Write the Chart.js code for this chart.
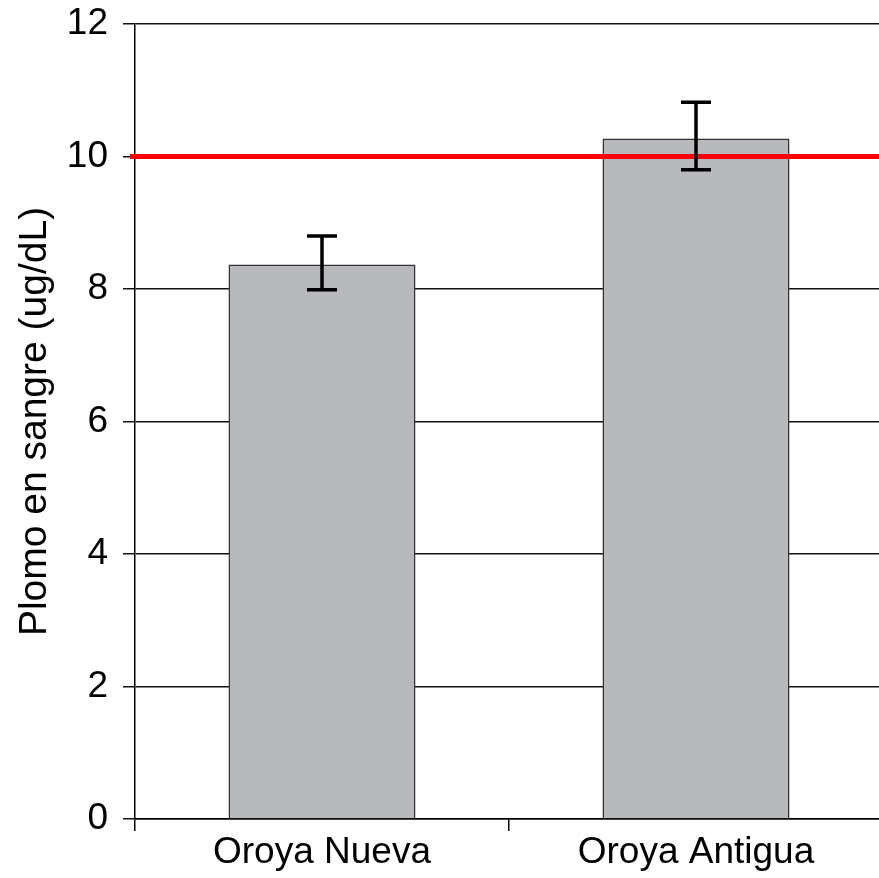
<!DOCTYPE html>
<html>
<head>
<meta charset="utf-8">
<script src="https://cdn.jsdelivr.net/npm/chart.js@4.4.1/dist/chart.umd.min.js"></script>
<style>
  html, body { margin: 0; padding: 0; background: #fff; overflow: hidden; }
  #wrap { width: 900px; height: 878px; }
</style>
</head>
<body>
<div id="wrap"><canvas id="grafico"></canvas></div>
<script>
// datos
const categorias = ['Oroya Nueva', 'Oroya Antigua'];
const plomoMedio = [8.37, 10.27];
const errorInferior = [7.99, 9.80];
const errorSuperior = [8.80, 10.82];
const limite = 10;
const ticksY = [0, 2, 4, 6, 8, 10, 12];

const fuente = "'Liberation Sans', Arial, sans-serif";

// línea roja del límite y barras de error
const extras = {
    id: 'extras',
    afterDatasetsDraw(chart) {
        const ctx = chart.ctx;
        const y = chart.scales.y;
        const area = chart.chartArea;
        const meta = chart.getDatasetMeta(0);

        ctx.save();
        ctx.strokeStyle = '#ff0000';
        ctx.lineWidth = 5;
        ctx.beginPath();
        ctx.moveTo(area.left - 5, y.getPixelForValue(limite));
        ctx.lineTo(chart.width, y.getPixelForValue(limite));
        ctx.stroke();

        ctx.strokeStyle = '#000';
        ctx.lineWidth = 3.5;
        meta.data.forEach((barra, i) => {
            const x = barra.x;
            const yLo = y.getPixelForValue(errorInferior[i]);
            const yHi = y.getPixelForValue(errorSuperior[i]);
            ctx.beginPath();
            ctx.moveTo(x, yLo);
            ctx.lineTo(x, yHi);
            ctx.moveTo(x - 15, yLo);
            ctx.lineTo(x + 15, yLo);
            ctx.moveTo(x - 15, yHi);
            ctx.lineTo(x + 15, yHi);
            ctx.stroke();
        });
        ctx.restore();
    }
};

document.addEventListener('DOMContentLoaded', () => {
    const ctx = document.getElementById('grafico').getContext('2d');
    new Chart(ctx, {
        type: 'bar',
        data: {
            labels: categorias,
            datasets: [{
                label: 'Plomo en sangre',
                data: plomoMedio,
                backgroundColor: '#b8b9bd',
                borderColor: '#333',
                borderWidth: 1.5,
                barPercentage: 0.5,
                categoryPercentage: 1
            }]
        },
        options: {
            responsive: true,
            maintainAspectRatio: false,
            animation: false,
            layout: { padding: { top: 24, right: 17, left: 0, bottom: 0 } },
            plugins: {
                legend: { display: false },
                tooltip: { enabled: false }
            },
            scales: {
                x: {
                    afterFit: s => { s.height = 59; s.paddingLeft = 0; s.paddingRight = 0; },
                    grid: {
                        drawOnChartArea: false,
                        drawTicks: true,
                        tickLength: 12,
                        color: '#000',
                        lineWidth: 1.5
                    },
                    border: { display: true, color: '#000', width: 1.5 },
                    ticks: {
                        color: '#000',
                        padding: 0,
                        font: { family: fuente, size: 37 }
                    }
                },
                y: {
                    min: 0,
                    max: 12,
                    afterFit: s => { s.width = 135; s.paddingTop = 0; s.paddingBottom = 0; },
                    afterBuildTicks: s => { s.ticks = ticksY.map(v => ({ value: v })); },
                    grid: {
                        color: '#111',
                        lineWidth: 1.5,
                        tickLength: 12
                    },
                    border: { display: true, color: '#000', width: 1.5 },
                    ticks: {
                        color: '#000',
                        padding: 15,
                        font: { family: fuente, size: 37 }
                    },
                    title: {
                        display: true,
                        text: 'Plomo en sangre (ug/dL)',
                        color: '#000',
                        padding: { top: 12, bottom: 0 },
                        font: { family: fuente, size: 39 }
                    }
                }
            }
        },
        plugins: [extras]
    });
});
</script>
</body>
</html>
